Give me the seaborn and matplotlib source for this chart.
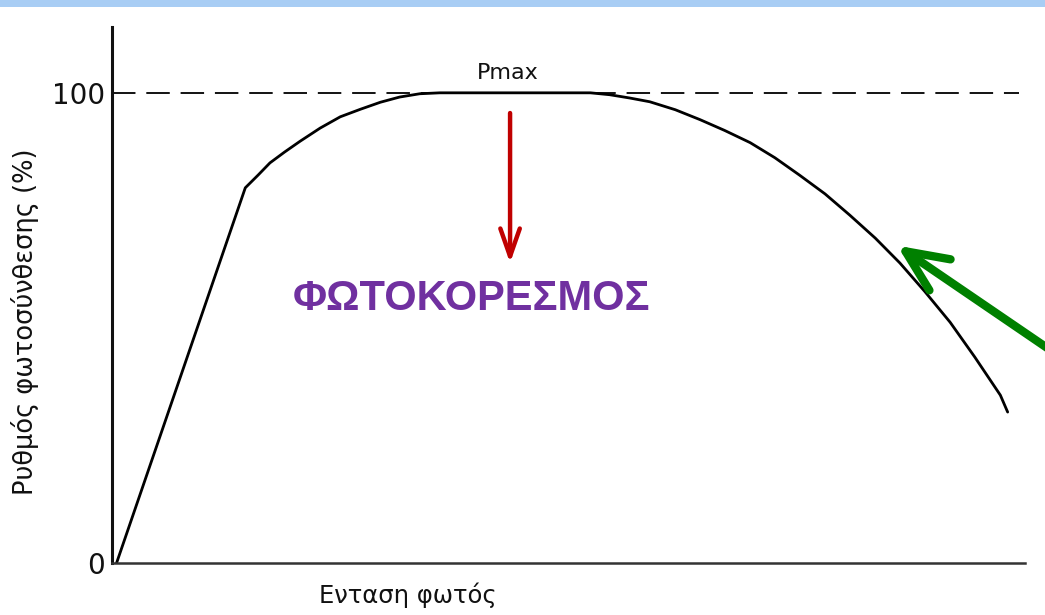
import matplotlib
matplotlib.use("Agg")
import matplotlib.pyplot as plt
from matplotlib.patches import Rectangle
import seaborn as sns
import pandas as pd

# Light-response curve of photosynthesis (light intensity in arbitrary units, rate in %)
light = [0.5, 14.6, 16.0, 17.3, 18.9, 20.6, 22.8, 25.0, 27.2, 29.4, 31.5,
         33.7, 35.9, 42.5, 52.4, 54.5, 56.7, 58.9, 61.7, 64.4, 67.1, 69.9,
         72.6, 75.3, 78.1, 80.8, 83.6, 86.3, 89.0, 91.8, 94.5, 97.3, 98.1]
rate = [0.0, 79.8, 82.5, 85.1, 87.4, 89.7, 92.5, 94.9, 96.5, 98.0, 99.1,
        99.8, 100.0, 100.0, 100.0, 99.6, 98.9, 98.1, 96.4, 94.3, 92.0, 89.4,
        86.2, 82.5, 78.5, 74.0, 69.1, 63.8, 57.8, 51.2, 43.8, 35.7, 32.1]

pmax = 100
ytick_vals = [0, 100]
ytick_labels = ["0", "100"]

sns.set_style("white")
plt.rcParams["font.family"] = ["DejaVu Sans"]

W, H = 1045, 615
fig = plt.figure(figsize=(W / 100, H / 100), dpi=100)
fig.patch.set_facecolor("white")

# thin banner across the top edge
fig.add_artist(Rectangle((0, 1 - 7 / H), 1, 7 / H, transform=fig.transFigure,
                         facecolor="#a8cdf4", edgecolor="none"))

left, right, bottom, top = 112, 1025, 563, 27
ax = fig.add_axes([left / W, 1 - bottom / H, (right - left) / W, (bottom - top) / H])

df = pd.DataFrame({"light": light, "rate": rate})
sns.lineplot(data=df, x="light", y="rate", ax=ax, color="black", linewidth=2.0,
             estimator=None, sort=False)

ax.set_xlim(0, 100)
ax.set_ylim(0, 114)

# P max reference line
ax.plot([0, 99.3], [pmax, pmax], color="black", linewidth=1.3,
        dashes=(13, 6))
ax.text(43.3, 104.3, "Pmax", ha="center", va="center", fontsize=16,
        color="#111111")

# spines: only the two axes
for s in ("top", "right"):
    ax.spines[s].set_visible(False)
ax.spines["left"].set_linewidth(2.2)
ax.spines["left"].set_color("#111111")
ax.spines["bottom"].set_linewidth(1.8)
ax.spines["bottom"].set_color("#333333")

ax.set_xticks([])
ax.set_yticks(ytick_vals)
ax.set_yticklabels(ytick_labels, fontsize=20, color="#111111")
ax.tick_params(axis="y", length=0, pad=5)

ax.set_ylabel("Ρυθμός φωτοσύνθεσης (%)", fontsize=18.5, color="#111111",
              va="center")
ax.yaxis.set_label_coords(-0.0953, 0.451)
ax.set_xlabel("Ενταση φωτός", fontsize=17.5, color="#111111", va="center")
ax.xaxis.set_label_coords(0.324, -0.060)

# saturation annotation
ax.annotate("", xy=(43.6, 63.8), xytext=(43.6, 95.7),
            arrowprops=dict(arrowstyle="->,head_length=1.0,head_width=0.35",
                            color="#c00000", linewidth=3.2, mutation_scale=20,
                            shrinkA=0, shrinkB=0, capstyle="round",
                            joinstyle="round"))
ax.text(39.4, 56.2, "ΦΩΤΟΚΟΡΕΣΜΟΣ", ha="center", va="center", fontsize=30,
        fontweight="bold", color="#7030a0", family=["Liberation Sans", "DejaVu Sans"])

# arrow pointing at the declining part of the curve
ax.annotate("", xy=(86.0, 67.5), xytext=(104.5, 43.0),
            arrowprops=dict(arrowstyle="->,head_length=1.0,head_width=0.45",
                            color="#008000", linewidth=6, mutation_scale=30,
                            shrinkA=0, shrinkB=0, capstyle="round",
                            joinstyle="round"),
            annotation_clip=False)

fig.savefig("out.png", dpi=100)
